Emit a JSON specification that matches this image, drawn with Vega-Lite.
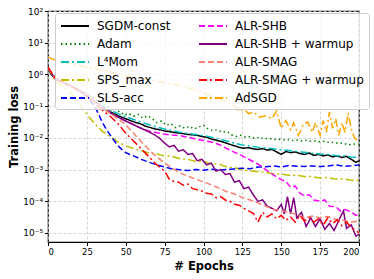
{
 "$schema": "https://vega.github.io/schema/vega-lite/v6.json",
 "width": 311, "height": 231,
 "autosize": {"type": "none"},
 "padding": {"left": 48, "top": 11, "right": 15, "bottom": 37},
 "config": {
  "font": "DejaVu Sans",
  "view": {"stroke": "black", "strokeWidth": 1.2},
  "axis": {"gridColor": "#cccccc", "gridDash": [3, 2], "gridWidth": 0.8, "domain": false, "tickColor": "black", "labelColor": "black", "labelFont": "DejaVu Sans", "titleFont": "DejaVu Sans", "titleFontWeight": "bold", "titleFontSize": 11.5, "titleColor": "black", "labelFontSize": 8.5, "tickSize": 3.5}
 },
 "data": {"values": [
  {"method":"SGDM-const","epoch":0,"loss":1.6},{"method":"SGDM-const","epoch":2,"loss":1.0},{"method":"SGDM-const","epoch":5,"loss":0.72},{"method":"SGDM-const","epoch":10,"loss":0.55},{"method":"SGDM-const","epoch":15,"loss":0.42},{"method":"SGDM-const","epoch":20,"loss":0.31},{"method":"SGDM-const","epoch":25,"loss":0.22},{"method":"SGDM-const","epoch":30,"loss":0.14},{"method":"SGDM-const","epoch":35,"loss":0.092},{"method":"SGDM-const","epoch":40,"loss":0.066},{"method":"SGDM-const","epoch":45,"loss":0.05},{"method":"SGDM-const","epoch":50,"loss":0.04},{"method":"SGDM-const","epoch":55,"loss":0.032},{"method":"SGDM-const","epoch":60,"loss":0.027},{"method":"SGDM-const","epoch":63,"loss":0.023},{"method":"SGDM-const","epoch":66,"loss":0.021},{"method":"SGDM-const","epoch":69,"loss":0.019},{"method":"SGDM-const","epoch":72,"loss":0.018},{"method":"SGDM-const","epoch":75,"loss":0.0165},{"method":"SGDM-const","epoch":78,"loss":0.0158},{"method":"SGDM-const","epoch":81,"loss":0.0148},{"method":"SGDM-const","epoch":84,"loss":0.0142},{"method":"SGDM-const","epoch":87,"loss":0.0136},{"method":"SGDM-const","epoch":90,"loss":0.0128},{"method":"SGDM-const","epoch":93,"loss":0.0125},{"method":"SGDM-const","epoch":96,"loss":0.012},{"method":"SGDM-const","epoch":99,"loss":0.011},{"method":"SGDM-const","epoch":102,"loss":0.0105},{"method":"SGDM-const","epoch":105,"loss":0.0092},{"method":"SGDM-const","epoch":108,"loss":0.0085},{"method":"SGDM-const","epoch":111,"loss":0.0078},{"method":"SGDM-const","epoch":114,"loss":0.007},{"method":"SGDM-const","epoch":117,"loss":0.0062},{"method":"SGDM-const","epoch":120,"loss":0.0056},{"method":"SGDM-const","epoch":123,"loss":0.005},{"method":"SGDM-const","epoch":126,"loss":0.0047},{"method":"SGDM-const","epoch":129,"loss":0.0049},{"method":"SGDM-const","epoch":132,"loss":0.0045},{"method":"SGDM-const","epoch":135,"loss":0.0043},{"method":"SGDM-const","epoch":138,"loss":0.0046},{"method":"SGDM-const","epoch":141,"loss":0.0041},{"method":"SGDM-const","epoch":144,"loss":0.0043},{"method":"SGDM-const","epoch":147,"loss":0.0036},{"method":"SGDM-const","epoch":150,"loss":0.003},{"method":"SGDM-const","epoch":153,"loss":0.0037},{"method":"SGDM-const","epoch":156,"loss":0.0034},{"method":"SGDM-const","epoch":159,"loss":0.0036},{"method":"SGDM-const","epoch":162,"loss":0.0032},{"method":"SGDM-const","epoch":165,"loss":0.003},{"method":"SGDM-const","epoch":168,"loss":0.0033},{"method":"SGDM-const","epoch":171,"loss":0.0028},{"method":"SGDM-const","epoch":174,"loss":0.003},{"method":"SGDM-const","epoch":177,"loss":0.0027},{"method":"SGDM-const","epoch":180,"loss":0.0029},{"method":"SGDM-const","epoch":183,"loss":0.0025},{"method":"SGDM-const","epoch":186,"loss":0.0027},{"method":"SGDM-const","epoch":189,"loss":0.0024},{"method":"SGDM-const","epoch":192,"loss":0.0026},{"method":"SGDM-const","epoch":195,"loss":0.0021},{"method":"SGDM-const","epoch":198,"loss":0.0017},{"method":"SGDM-const","epoch":200,"loss":0.0019},
  {"method":"Adam","epoch":0,"loss":1.6},{"method":"Adam","epoch":5,"loss":0.75},{"method":"Adam","epoch":10,"loss":0.56},{"method":"Adam","epoch":15,"loss":0.44},{"method":"Adam","epoch":20,"loss":0.34},{"method":"Adam","epoch":25,"loss":0.25},{"method":"Adam","epoch":30,"loss":0.17},{"method":"Adam","epoch":35,"loss":0.12},{"method":"Adam","epoch":40,"loss":0.085},{"method":"Adam","epoch":43,"loss":0.06},{"method":"Adam","epoch":46,"loss":0.07},{"method":"Adam","epoch":49,"loss":0.052},{"method":"Adam","epoch":52,"loss":0.058},{"method":"Adam","epoch":55,"loss":0.048},{"method":"Adam","epoch":58,"loss":0.055},{"method":"Adam","epoch":61,"loss":0.042},{"method":"Adam","epoch":64,"loss":0.05},{"method":"Adam","epoch":67,"loss":0.04},{"method":"Adam","epoch":70,"loss":0.03},{"method":"Adam","epoch":73,"loss":0.034},{"method":"Adam","epoch":76,"loss":0.025},{"method":"Adam","epoch":79,"loss":0.028},{"method":"Adam","epoch":82,"loss":0.021},{"method":"Adam","epoch":85,"loss":0.024},{"method":"Adam","epoch":88,"loss":0.02},{"method":"Adam","epoch":91,"loss":0.023},{"method":"Adam","epoch":94,"loss":0.019},{"method":"Adam","epoch":97,"loss":0.022},{"method":"Adam","epoch":100,"loss":0.025},{"method":"Adam","epoch":103,"loss":0.019},{"method":"Adam","epoch":106,"loss":0.017},{"method":"Adam","epoch":109,"loss":0.018},{"method":"Adam","epoch":112,"loss":0.015},{"method":"Adam","epoch":115,"loss":0.016},{"method":"Adam","epoch":118,"loss":0.0125},{"method":"Adam","epoch":121,"loss":0.011},{"method":"Adam","epoch":124,"loss":0.012},{"method":"Adam","epoch":127,"loss":0.0105},{"method":"Adam","epoch":130,"loss":0.011},{"method":"Adam","epoch":133,"loss":0.0095},{"method":"Adam","epoch":136,"loss":0.0105},{"method":"Adam","epoch":139,"loss":0.0093},{"method":"Adam","epoch":142,"loss":0.0098},{"method":"Adam","epoch":145,"loss":0.0088},{"method":"Adam","epoch":148,"loss":0.0092},{"method":"Adam","epoch":151,"loss":0.0085},{"method":"Adam","epoch":154,"loss":0.009},{"method":"Adam","epoch":157,"loss":0.0082},{"method":"Adam","epoch":160,"loss":0.0086},{"method":"Adam","epoch":163,"loss":0.008},{"method":"Adam","epoch":166,"loss":0.0084},{"method":"Adam","epoch":169,"loss":0.0078},{"method":"Adam","epoch":172,"loss":0.0081},{"method":"Adam","epoch":175,"loss":0.0075},{"method":"Adam","epoch":178,"loss":0.0078},{"method":"Adam","epoch":181,"loss":0.007},{"method":"Adam","epoch":184,"loss":0.0073},{"method":"Adam","epoch":187,"loss":0.0066},{"method":"Adam","epoch":190,"loss":0.0068},{"method":"Adam","epoch":193,"loss":0.006},{"method":"Adam","epoch":196,"loss":0.0064},{"method":"Adam","epoch":200,"loss":0.0062},
  {"method":"L⁴Mom","epoch":0,"loss":1.6},{"method":"L⁴Mom","epoch":5,"loss":0.7},{"method":"L⁴Mom","epoch":10,"loss":0.55},{"method":"L⁴Mom","epoch":15,"loss":0.42},{"method":"L⁴Mom","epoch":20,"loss":0.32},{"method":"L⁴Mom","epoch":25,"loss":0.22},{"method":"L⁴Mom","epoch":30,"loss":0.15},{"method":"L⁴Mom","epoch":35,"loss":0.1},{"method":"L⁴Mom","epoch":40,"loss":0.075},{"method":"L⁴Mom","epoch":45,"loss":0.058},{"method":"L⁴Mom","epoch":50,"loss":0.047},{"method":"L⁴Mom","epoch":55,"loss":0.038},{"method":"L⁴Mom","epoch":60,"loss":0.031},{"method":"L⁴Mom","epoch":65,"loss":0.026},{"method":"L⁴Mom","epoch":70,"loss":0.022},{"method":"L⁴Mom","epoch":75,"loss":0.019},{"method":"L⁴Mom","epoch":80,"loss":0.017},{"method":"L⁴Mom","epoch":85,"loss":0.015},{"method":"L⁴Mom","epoch":90,"loss":0.0138},{"method":"L⁴Mom","epoch":95,"loss":0.0128},{"method":"L⁴Mom","epoch":100,"loss":0.0118},{"method":"L⁴Mom","epoch":105,"loss":0.0105},{"method":"L⁴Mom","epoch":110,"loss":0.0092},{"method":"L⁴Mom","epoch":115,"loss":0.008},{"method":"L⁴Mom","epoch":120,"loss":0.0068},{"method":"L⁴Mom","epoch":125,"loss":0.006},{"method":"L⁴Mom","epoch":130,"loss":0.0055},{"method":"L⁴Mom","epoch":135,"loss":0.0051},{"method":"L⁴Mom","epoch":140,"loss":0.0048},{"method":"L⁴Mom","epoch":145,"loss":0.0045},{"method":"L⁴Mom","epoch":150,"loss":0.0042},{"method":"L⁴Mom","epoch":155,"loss":0.004},{"method":"L⁴Mom","epoch":160,"loss":0.0037},{"method":"L⁴Mom","epoch":165,"loss":0.0035},{"method":"L⁴Mom","epoch":170,"loss":0.0033},{"method":"L⁴Mom","epoch":175,"loss":0.0031},{"method":"L⁴Mom","epoch":180,"loss":0.003},{"method":"L⁴Mom","epoch":185,"loss":0.0028},{"method":"L⁴Mom","epoch":190,"loss":0.0027},{"method":"L⁴Mom","epoch":195,"loss":0.0025},{"method":"L⁴Mom","epoch":200,"loss":0.0024},
  {"method":"SPS_max","epoch":0,"loss":1.6},{"method":"SPS_max","epoch":5,"loss":0.6},{"method":"SPS_max","epoch":10,"loss":0.4},{"method":"SPS_max","epoch":15,"loss":0.25},{"method":"SPS_max","epoch":20,"loss":0.12},{"method":"SPS_max","epoch":25,"loss":0.055},{"method":"SPS_max","epoch":30,"loss":0.028},{"method":"SPS_max","epoch":35,"loss":0.016},{"method":"SPS_max","epoch":40,"loss":0.011},{"method":"SPS_max","epoch":45,"loss":0.0075},{"method":"SPS_max","epoch":50,"loss":0.0056},{"method":"SPS_max","epoch":55,"loss":0.0046},{"method":"SPS_max","epoch":60,"loss":0.0039},{"method":"SPS_max","epoch":65,"loss":0.0033},{"method":"SPS_max","epoch":70,"loss":0.0031},{"method":"SPS_max","epoch":75,"loss":0.0027},{"method":"SPS_max","epoch":80,"loss":0.0026},{"method":"SPS_max","epoch":85,"loss":0.0022},{"method":"SPS_max","epoch":90,"loss":0.0021},{"method":"SPS_max","epoch":95,"loss":0.0018},{"method":"SPS_max","epoch":100,"loss":0.0018},{"method":"SPS_max","epoch":105,"loss":0.0015},{"method":"SPS_max","epoch":110,"loss":0.0015},{"method":"SPS_max","epoch":115,"loss":0.0012},{"method":"SPS_max","epoch":120,"loss":0.00115},{"method":"SPS_max","epoch":125,"loss":0.00098},{"method":"SPS_max","epoch":130,"loss":0.00092},{"method":"SPS_max","epoch":135,"loss":0.00086},{"method":"SPS_max","epoch":140,"loss":0.00082},{"method":"SPS_max","epoch":145,"loss":0.00074},{"method":"SPS_max","epoch":150,"loss":0.00072},{"method":"SPS_max","epoch":155,"loss":0.00066},{"method":"SPS_max","epoch":160,"loss":0.00066},{"method":"SPS_max","epoch":165,"loss":0.0006},{"method":"SPS_max","epoch":170,"loss":0.0006},{"method":"SPS_max","epoch":175,"loss":0.00054},{"method":"SPS_max","epoch":180,"loss":0.00056},{"method":"SPS_max","epoch":185,"loss":0.0005},{"method":"SPS_max","epoch":190,"loss":0.00051},{"method":"SPS_max","epoch":195,"loss":0.00046},{"method":"SPS_max","epoch":200,"loss":0.00045},
  {"method":"SLS-acc","epoch":0,"loss":1.6},{"method":"SLS-acc","epoch":5,"loss":0.7},{"method":"SLS-acc","epoch":10,"loss":0.55},{"method":"SLS-acc","epoch":15,"loss":0.42},{"method":"SLS-acc","epoch":20,"loss":0.3},{"method":"SLS-acc","epoch":25,"loss":0.2},{"method":"SLS-acc","epoch":30,"loss":0.1},{"method":"SLS-acc","epoch":33,"loss":0.05},{"method":"SLS-acc","epoch":35,"loss":0.03},{"method":"SLS-acc","epoch":38,"loss":0.017},{"method":"SLS-acc","epoch":41,"loss":0.0105},{"method":"SLS-acc","epoch":44,"loss":0.0065},{"method":"SLS-acc","epoch":47,"loss":0.0045},{"method":"SLS-acc","epoch":50,"loss":0.0034},{"method":"SLS-acc","epoch":55,"loss":0.0027},{"method":"SLS-acc","epoch":60,"loss":0.0021},{"method":"SLS-acc","epoch":65,"loss":0.0017},{"method":"SLS-acc","epoch":70,"loss":0.0014},{"method":"SLS-acc","epoch":75,"loss":0.0012},{"method":"SLS-acc","epoch":80,"loss":0.00105},{"method":"SLS-acc","epoch":85,"loss":0.00098},{"method":"SLS-acc","epoch":90,"loss":0.00093},{"method":"SLS-acc","epoch":95,"loss":0.001},{"method":"SLS-acc","epoch":100,"loss":0.00096},{"method":"SLS-acc","epoch":105,"loss":0.00103},{"method":"SLS-acc","epoch":110,"loss":0.00097},{"method":"SLS-acc","epoch":115,"loss":0.00101},{"method":"SLS-acc","epoch":120,"loss":0.00105},{"method":"SLS-acc","epoch":125,"loss":0.0011},{"method":"SLS-acc","epoch":130,"loss":0.00106},{"method":"SLS-acc","epoch":135,"loss":0.0012},{"method":"SLS-acc","epoch":140,"loss":0.00122},{"method":"SLS-acc","epoch":145,"loss":0.0013},{"method":"SLS-acc","epoch":150,"loss":0.0012},{"method":"SLS-acc","epoch":155,"loss":0.00135},{"method":"SLS-acc","epoch":160,"loss":0.00128},{"method":"SLS-acc","epoch":165,"loss":0.00126},{"method":"SLS-acc","epoch":170,"loss":0.0013},{"method":"SLS-acc","epoch":175,"loss":0.00124},{"method":"SLS-acc","epoch":180,"loss":0.0013},{"method":"SLS-acc","epoch":185,"loss":0.0014},{"method":"SLS-acc","epoch":190,"loss":0.00127},{"method":"SLS-acc","epoch":195,"loss":0.00132},{"method":"SLS-acc","epoch":200,"loss":0.0014},
  {"method":"ALR-SHB","epoch":0,"loss":1.6},{"method":"ALR-SHB","epoch":5,"loss":0.7},{"method":"ALR-SHB","epoch":10,"loss":0.55},{"method":"ALR-SHB","epoch":15,"loss":0.42},{"method":"ALR-SHB","epoch":20,"loss":0.31},{"method":"ALR-SHB","epoch":25,"loss":0.22},{"method":"ALR-SHB","epoch":30,"loss":0.14},{"method":"ALR-SHB","epoch":35,"loss":0.09},{"method":"ALR-SHB","epoch":40,"loss":0.062},{"method":"ALR-SHB","epoch":45,"loss":0.045},{"method":"ALR-SHB","epoch":50,"loss":0.034},{"method":"ALR-SHB","epoch":55,"loss":0.026},{"method":"ALR-SHB","epoch":60,"loss":0.02},{"method":"ALR-SHB","epoch":65,"loss":0.0165},{"method":"ALR-SHB","epoch":70,"loss":0.0145},{"method":"ALR-SHB","epoch":75,"loss":0.013},{"method":"ALR-SHB","epoch":80,"loss":0.0122},{"method":"ALR-SHB","epoch":85,"loss":0.0118},{"method":"ALR-SHB","epoch":90,"loss":0.0105},{"method":"ALR-SHB","epoch":95,"loss":0.0092},{"method":"ALR-SHB","epoch":100,"loss":0.0083},{"method":"ALR-SHB","epoch":105,"loss":0.0074},{"method":"ALR-SHB","epoch":110,"loss":0.0062},{"method":"ALR-SHB","epoch":115,"loss":0.0046},{"method":"ALR-SHB","epoch":120,"loss":0.0035},{"method":"ALR-SHB","epoch":125,"loss":0.0027},{"method":"ALR-SHB","epoch":130,"loss":0.002},{"method":"ALR-SHB","epoch":135,"loss":0.0015},{"method":"ALR-SHB","epoch":140,"loss":0.001},{"method":"ALR-SHB","epoch":145,"loss":0.00068},{"method":"ALR-SHB","epoch":150,"loss":0.00048},{"method":"ALR-SHB","epoch":153,"loss":0.00042},{"method":"ALR-SHB","epoch":156,"loss":0.00028},{"method":"ALR-SHB","epoch":159,"loss":0.0003},{"method":"ALR-SHB","epoch":162,"loss":0.00018},{"method":"ALR-SHB","epoch":165,"loss":0.00015},{"method":"ALR-SHB","epoch":168,"loss":0.00016},{"method":"ALR-SHB","epoch":171,"loss":0.00011},{"method":"ALR-SHB","epoch":175,"loss":0.0001},{"method":"ALR-SHB","epoch":178,"loss":0.00011},{"method":"ALR-SHB","epoch":181,"loss":0.00007},{"method":"ALR-SHB","epoch":185,"loss":0.000068},{"method":"ALR-SHB","epoch":188,"loss":0.00005},{"method":"ALR-SHB","epoch":191,"loss":0.000055},{"method":"ALR-SHB","epoch":195,"loss":0.000046},{"method":"ALR-SHB","epoch":198,"loss":0.000036},{"method":"ALR-SHB","epoch":200,"loss":0.00004},
  {"method":"ALR-SHB + warmup","epoch":0,"loss":1.6},{"method":"ALR-SHB + warmup","epoch":5,"loss":0.7},{"method":"ALR-SHB + warmup","epoch":10,"loss":0.55},{"method":"ALR-SHB + warmup","epoch":15,"loss":0.42},{"method":"ALR-SHB + warmup","epoch":20,"loss":0.31},{"method":"ALR-SHB + warmup","epoch":25,"loss":0.22},{"method":"ALR-SHB + warmup","epoch":30,"loss":0.14},{"method":"ALR-SHB + warmup","epoch":35,"loss":0.09},{"method":"ALR-SHB + warmup","epoch":40,"loss":0.062},{"method":"ALR-SHB + warmup","epoch":45,"loss":0.045},{"method":"ALR-SHB + warmup","epoch":50,"loss":0.034},{"method":"ALR-SHB + warmup","epoch":55,"loss":0.026},{"method":"ALR-SHB + warmup","epoch":60,"loss":0.02},{"method":"ALR-SHB + warmup","epoch":63,"loss":0.017},{"method":"ALR-SHB + warmup","epoch":66,"loss":0.0145},{"method":"ALR-SHB + warmup","epoch":69,"loss":0.012},{"method":"ALR-SHB + warmup","epoch":72,"loss":0.0095},{"method":"ALR-SHB + warmup","epoch":75,"loss":0.0068},{"method":"ALR-SHB + warmup","epoch":78,"loss":0.0052},{"method":"ALR-SHB + warmup","epoch":81,"loss":0.0058},{"method":"ALR-SHB + warmup","epoch":84,"loss":0.0038},{"method":"ALR-SHB + warmup","epoch":87,"loss":0.0042},{"method":"ALR-SHB + warmup","epoch":90,"loss":0.003},{"method":"ALR-SHB + warmup","epoch":93,"loss":0.0032},{"method":"ALR-SHB + warmup","epoch":96,"loss":0.0019},{"method":"ALR-SHB + warmup","epoch":99,"loss":0.0021},{"method":"ALR-SHB + warmup","epoch":102,"loss":0.0014},{"method":"ALR-SHB + warmup","epoch":105,"loss":0.0016},{"method":"ALR-SHB + warmup","epoch":108,"loss":0.0009},{"method":"ALR-SHB + warmup","epoch":111,"loss":0.001},{"method":"ALR-SHB + warmup","epoch":114,"loss":0.0007},{"method":"ALR-SHB + warmup","epoch":117,"loss":0.00075},{"method":"ALR-SHB + warmup","epoch":120,"loss":0.0004},{"method":"ALR-SHB + warmup","epoch":123,"loss":0.00045},{"method":"ALR-SHB + warmup","epoch":126,"loss":0.00025},{"method":"ALR-SHB + warmup","epoch":129,"loss":0.00028},{"method":"ALR-SHB + warmup","epoch":132,"loss":0.00016},{"method":"ALR-SHB + warmup","epoch":135,"loss":0.0001},{"method":"ALR-SHB + warmup","epoch":138,"loss":0.00011},{"method":"ALR-SHB + warmup","epoch":141,"loss":0.00007},{"method":"ALR-SHB + warmup","epoch":144,"loss":0.00006},{"method":"ALR-SHB + warmup","epoch":147,"loss":0.00005},{"method":"ALR-SHB + warmup","epoch":150,"loss":0.00008},{"method":"ALR-SHB + warmup","epoch":152,"loss":0.00004},{"method":"ALR-SHB + warmup","epoch":154,"loss":0.00014},{"method":"ALR-SHB + warmup","epoch":156,"loss":0.00004},{"method":"ALR-SHB + warmup","epoch":158,"loss":0.00013},{"method":"ALR-SHB + warmup","epoch":160,"loss":0.00003},{"method":"ALR-SHB + warmup","epoch":163,"loss":0.000045},{"method":"ALR-SHB + warmup","epoch":166,"loss":0.000016},{"method":"ALR-SHB + warmup","epoch":169,"loss":0.00003},{"method":"ALR-SHB + warmup","epoch":172,"loss":0.000016},{"method":"ALR-SHB + warmup","epoch":175,"loss":0.000028},{"method":"ALR-SHB + warmup","epoch":178,"loss":0.000013},{"method":"ALR-SHB + warmup","epoch":181,"loss":0.00002},{"method":"ALR-SHB + warmup","epoch":184,"loss":0.000012},{"method":"ALR-SHB + warmup","epoch":187,"loss":0.000025},{"method":"ALR-SHB + warmup","epoch":190,"loss":0.00005},{"method":"ALR-SHB + warmup","epoch":192,"loss":0.000014},{"method":"ALR-SHB + warmup","epoch":195,"loss":0.000018},{"method":"ALR-SHB + warmup","epoch":198,"loss":0.000008},{"method":"ALR-SHB + warmup","epoch":200,"loss":0.000009},
  {"method":"ALR-SMAG","epoch":0,"loss":1.6},{"method":"ALR-SMAG","epoch":5,"loss":0.7},{"method":"ALR-SMAG","epoch":10,"loss":0.55},{"method":"ALR-SMAG","epoch":15,"loss":0.42},{"method":"ALR-SMAG","epoch":20,"loss":0.31},{"method":"ALR-SMAG","epoch":25,"loss":0.22},{"method":"ALR-SMAG","epoch":30,"loss":0.14},{"method":"ALR-SMAG","epoch":35,"loss":0.088},{"method":"ALR-SMAG","epoch":40,"loss":0.06},{"method":"ALR-SMAG","epoch":45,"loss":0.04},{"method":"ALR-SMAG","epoch":50,"loss":0.026},{"method":"ALR-SMAG","epoch":55,"loss":0.014},{"method":"ALR-SMAG","epoch":60,"loss":0.0075},{"method":"ALR-SMAG","epoch":65,"loss":0.0042},{"method":"ALR-SMAG","epoch":70,"loss":0.0025},{"method":"ALR-SMAG","epoch":75,"loss":0.0016},{"method":"ALR-SMAG","epoch":80,"loss":0.0011},{"method":"ALR-SMAG","epoch":85,"loss":0.00078},{"method":"ALR-SMAG","epoch":90,"loss":0.00062},{"method":"ALR-SMAG","epoch":95,"loss":0.0005},{"method":"ALR-SMAG","epoch":100,"loss":0.00041},{"method":"ALR-SMAG","epoch":105,"loss":0.00033},{"method":"ALR-SMAG","epoch":110,"loss":0.00026},{"method":"ALR-SMAG","epoch":115,"loss":0.0002},{"method":"ALR-SMAG","epoch":120,"loss":0.00017},{"method":"ALR-SMAG","epoch":125,"loss":0.00013},{"method":"ALR-SMAG","epoch":130,"loss":0.00011},{"method":"ALR-SMAG","epoch":135,"loss":0.00009},{"method":"ALR-SMAG","epoch":140,"loss":0.00007},{"method":"ALR-SMAG","epoch":145,"loss":0.000055},{"method":"ALR-SMAG","epoch":150,"loss":0.00005},{"method":"ALR-SMAG","epoch":155,"loss":0.000045},{"method":"ALR-SMAG","epoch":160,"loss":0.000038},{"method":"ALR-SMAG","epoch":165,"loss":0.00003},{"method":"ALR-SMAG","epoch":170,"loss":0.000034},{"method":"ALR-SMAG","epoch":175,"loss":0.00003},{"method":"ALR-SMAG","epoch":180,"loss":0.000033},{"method":"ALR-SMAG","epoch":185,"loss":0.000027},{"method":"ALR-SMAG","epoch":190,"loss":0.000025},{"method":"ALR-SMAG","epoch":195,"loss":0.000022},{"method":"ALR-SMAG","epoch":200,"loss":0.000024},
  {"method":"ALR-SMAG + warmup","epoch":0,"loss":1.7},{"method":"ALR-SMAG + warmup","epoch":5,"loss":0.7},{"method":"ALR-SMAG + warmup","epoch":10,"loss":0.55},{"method":"ALR-SMAG + warmup","epoch":15,"loss":0.42},{"method":"ALR-SMAG + warmup","epoch":20,"loss":0.31},{"method":"ALR-SMAG + warmup","epoch":25,"loss":0.21},{"method":"ALR-SMAG + warmup","epoch":30,"loss":0.13},{"method":"ALR-SMAG + warmup","epoch":35,"loss":0.075},{"method":"ALR-SMAG + warmup","epoch":40,"loss":0.048},{"method":"ALR-SMAG + warmup","epoch":45,"loss":0.028},{"method":"ALR-SMAG + warmup","epoch":50,"loss":0.014},{"method":"ALR-SMAG + warmup","epoch":55,"loss":0.008},{"method":"ALR-SMAG + warmup","epoch":60,"loss":0.0045},{"method":"ALR-SMAG + warmup","epoch":65,"loss":0.0025},{"method":"ALR-SMAG + warmup","epoch":70,"loss":0.0014},{"method":"ALR-SMAG + warmup","epoch":75,"loss":0.0009},{"method":"ALR-SMAG + warmup","epoch":78,"loss":0.0005},{"method":"ALR-SMAG + warmup","epoch":81,"loss":0.00042},{"method":"ALR-SMAG + warmup","epoch":84,"loss":0.0004},{"method":"ALR-SMAG + warmup","epoch":87,"loss":0.00032},{"method":"ALR-SMAG + warmup","epoch":90,"loss":0.00035},{"method":"ALR-SMAG + warmup","epoch":93,"loss":0.00025},{"method":"ALR-SMAG + warmup","epoch":96,"loss":0.00023},{"method":"ALR-SMAG + warmup","epoch":99,"loss":0.00021},{"method":"ALR-SMAG + warmup","epoch":102,"loss":0.00018},{"method":"ALR-SMAG + warmup","epoch":105,"loss":0.00017},{"method":"ALR-SMAG + warmup","epoch":108,"loss":0.00013},{"method":"ALR-SMAG + warmup","epoch":111,"loss":0.00014},{"method":"ALR-SMAG + warmup","epoch":114,"loss":0.00011},{"method":"ALR-SMAG + warmup","epoch":117,"loss":0.0001},{"method":"ALR-SMAG + warmup","epoch":120,"loss":0.00008},{"method":"ALR-SMAG + warmup","epoch":123,"loss":0.000075},{"method":"ALR-SMAG + warmup","epoch":126,"loss":0.00006},{"method":"ALR-SMAG + warmup","epoch":129,"loss":0.00005},{"method":"ALR-SMAG + warmup","epoch":132,"loss":0.000042},{"method":"ALR-SMAG + warmup","epoch":135,"loss":0.000022},{"method":"ALR-SMAG + warmup","epoch":138,"loss":0.000045},{"method":"ALR-SMAG + warmup","epoch":141,"loss":0.000032},{"method":"ALR-SMAG + warmup","epoch":144,"loss":0.00004},{"method":"ALR-SMAG + warmup","epoch":147,"loss":0.000028},{"method":"ALR-SMAG + warmup","epoch":150,"loss":0.000036},{"method":"ALR-SMAG + warmup","epoch":153,"loss":0.000025},{"method":"ALR-SMAG + warmup","epoch":156,"loss":0.000032},{"method":"ALR-SMAG + warmup","epoch":159,"loss":0.000022},{"method":"ALR-SMAG + warmup","epoch":162,"loss":0.000035},{"method":"ALR-SMAG + warmup","epoch":165,"loss":0.000024},{"method":"ALR-SMAG + warmup","epoch":168,"loss":0.00003},{"method":"ALR-SMAG + warmup","epoch":171,"loss":0.000022},{"method":"ALR-SMAG + warmup","epoch":174,"loss":0.000028},{"method":"ALR-SMAG + warmup","epoch":177,"loss":0.000018},{"method":"ALR-SMAG + warmup","epoch":180,"loss":0.00003},{"method":"ALR-SMAG + warmup","epoch":183,"loss":0.00002},{"method":"ALR-SMAG + warmup","epoch":186,"loss":0.000026},{"method":"ALR-SMAG + warmup","epoch":189,"loss":0.000017},{"method":"ALR-SMAG + warmup","epoch":192,"loss":0.000022},{"method":"ALR-SMAG + warmup","epoch":195,"loss":0.000015},{"method":"ALR-SMAG + warmup","epoch":198,"loss":0.000012},{"method":"ALR-SMAG + warmup","epoch":200,"loss":0.00001},
  {"method":"AdSGD","epoch":0,"loss":3.5},{"method":"AdSGD","epoch":5,"loss":2.8},{"method":"AdSGD","epoch":10,"loss":2.4},{"method":"AdSGD","epoch":15,"loss":2.1},{"method":"AdSGD","epoch":20,"loss":1.9},{"method":"AdSGD","epoch":25,"loss":1.7},{"method":"AdSGD","epoch":30,"loss":1.5},{"method":"AdSGD","epoch":35,"loss":1.3},{"method":"AdSGD","epoch":40,"loss":1.2},{"method":"AdSGD","epoch":45,"loss":1.0},{"method":"AdSGD","epoch":50,"loss":0.9},{"method":"AdSGD","epoch":55,"loss":0.8},{"method":"AdSGD","epoch":60,"loss":0.75},{"method":"AdSGD","epoch":65,"loss":0.68},{"method":"AdSGD","epoch":70,"loss":0.6},{"method":"AdSGD","epoch":75,"loss":0.55},{"method":"AdSGD","epoch":80,"loss":0.48},{"method":"AdSGD","epoch":85,"loss":0.45},{"method":"AdSGD","epoch":90,"loss":0.38},{"method":"AdSGD","epoch":95,"loss":0.32},{"method":"AdSGD","epoch":100,"loss":0.27},{"method":"AdSGD","epoch":105,"loss":0.2},{"method":"AdSGD","epoch":110,"loss":0.17},{"method":"AdSGD","epoch":115,"loss":0.14},{"method":"AdSGD","epoch":120,"loss":0.1},{"method":"AdSGD","epoch":123,"loss":0.07},{"method":"AdSGD","epoch":126,"loss":0.08},{"method":"AdSGD","epoch":129,"loss":0.058},{"method":"AdSGD","epoch":132,"loss":0.065},{"method":"AdSGD","epoch":136,"loss":0.045},{"method":"AdSGD","epoch":140,"loss":0.05},{"method":"AdSGD","epoch":144,"loss":0.04},{"method":"AdSGD","epoch":147,"loss":0.07},{"method":"AdSGD","epoch":150,"loss":0.02},{"method":"AdSGD","epoch":153,"loss":0.035},{"method":"AdSGD","epoch":156,"loss":0.018},{"method":"AdSGD","epoch":158,"loss":0.03},{"method":"AdSGD","epoch":161,"loss":0.012},{"method":"AdSGD","epoch":164,"loss":0.025},{"method":"AdSGD","epoch":167,"loss":0.032},{"method":"AdSGD","epoch":170,"loss":0.015},{"method":"AdSGD","epoch":172,"loss":0.03},{"method":"AdSGD","epoch":175,"loss":0.012},{"method":"AdSGD","epoch":177,"loss":0.035},{"method":"AdSGD","epoch":179,"loss":0.015},{"method":"AdSGD","epoch":181,"loss":0.065},{"method":"AdSGD","epoch":183,"loss":0.02},{"method":"AdSGD","epoch":185,"loss":0.04},{"method":"AdSGD","epoch":187,"loss":0.012},{"method":"AdSGD","epoch":189,"loss":0.03},{"method":"AdSGD","epoch":191,"loss":0.015},{"method":"AdSGD","epoch":193,"loss":0.06},{"method":"AdSGD","epoch":195,"loss":0.02},{"method":"AdSGD","epoch":197,"loss":0.01},{"method":"AdSGD","epoch":200,"loss":0.008}
 ]},
 "mark": {"type": "line", "strokeWidth": 1.5, "clip": true},
 "encoding": {
  "x": {"field": "epoch", "type": "quantitative", "scale": {"domain": [0, 200], "nice": false}, "axis": {"values": [0, 25, 50, 75, 100, 125, 150, 175, 200], "title": "# Epochs", "titlePadding": 4, "labelPadding": 2}},
  "y": {"field": "loss", "type": "quantitative", "scale": {"type": "log", "domain": [5.2e-6, 100], "nice": false}, "axis": {"values": [0.00001, 0.0001, 0.001, 0.01, 0.1, 1, 10, 100], "title": "Training loss", "titlePadding": 3, "labelPadding": 2, "labelFontSize": 9, "labelExpr": "datum.value >= 50 ? '10²' : datum.value >= 5 ? '10¹' : datum.value >= 0.5 ? '10⁰' : datum.value >= 0.05 ? '10⁻¹' : datum.value >= 0.005 ? '10⁻²' : datum.value >= 0.0005 ? '10⁻³' : datum.value >= 0.00005 ? '10⁻⁴' : '10⁻⁵'"}},
  "color": {"field": "method", "type": "nominal",
   "scale": {"domain": ["SGDM-const", "Adam", "L⁴Mom", "SPS_max", "SLS-acc", "ALR-SHB", "ALR-SHB + warmup", "ALR-SMAG", "ALR-SMAG + warmup", "AdSGD"],
             "range": ["#000000", "#008000", "#00BFBF", "#BFBF00", "#0000FF", "#FF00FF", "#800080", "#FA8072", "#FF0000", "#FFA500"]},
   "legend": {"title": null, "orient": "none", "legendX": 7, "legendY": 2, "columns": 2, "symbolType": "M-2,0L2,0", "symbolSize": 196, "symbolStrokeWidth": 1.8, "labelFontSize": 12, "labelFont": "DejaVu Sans", "labelColor": "black", "fillColor": "rgba(255,255,255,0.8)", "strokeColor": "#cccccc", "cornerRadius": 3, "padding": 5, "rowPadding": 4, "columnPadding": 24, "symbolOffset": 7, "labelOffset": 14, "labelLimit": 0, "zindex": 1}},
  "strokeDash": {"field": "method", "type": "nominal",
   "scale": {"domain": ["SGDM-const", "Adam", "L⁴Mom", "SPS_max", "SLS-acc", "ALR-SHB", "ALR-SHB + warmup", "ALR-SMAG", "ALR-SMAG + warmup", "AdSGD"],
             "range": [[1, 0], [1.5, 3], [8, 3, 2, 3], [8, 3, 2, 3], [6, 3], [6, 3], [1, 0], [6, 3], [8, 3, 2, 3], [8, 3, 2, 3]]},
   "legend": {"title": null, "orient": "none", "legendX": 7, "legendY": 2, "columns": 2, "symbolType": "M-2,0L2,0", "symbolSize": 196, "symbolStrokeWidth": 1.8, "labelFontSize": 12, "labelFont": "DejaVu Sans", "labelColor": "black", "fillColor": "rgba(255,255,255,0.8)", "strokeColor": "#cccccc", "cornerRadius": 3, "padding": 5, "rowPadding": 4, "columnPadding": 24, "symbolOffset": 7, "labelOffset": 14, "labelLimit": 0, "zindex": 1}}
 }
}
